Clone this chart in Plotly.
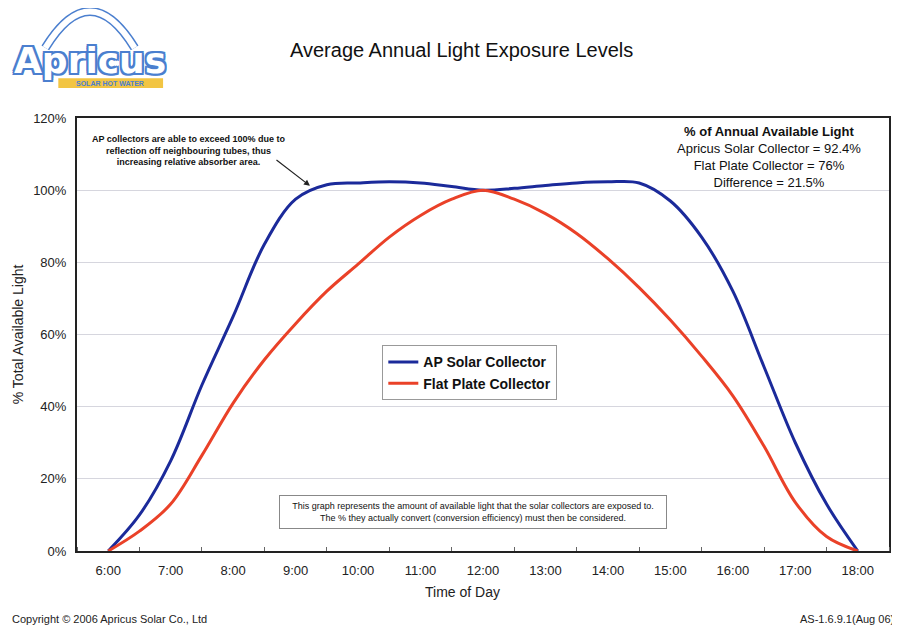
import plotly.graph_objects as go

hours = [6, 6.5, 7, 7.5, 8, 8.5, 9, 9.5, 10, 10.5, 11, 11.5, 12,
         12.5, 13, 13.5, 14, 14.5, 15, 15.5, 16, 16.5, 17, 17.5, 18]
ap_solar = [0, 10, 25, 46, 65, 85, 97.5, 101.5, 102, 102.3, 102, 101, 100,
            100.5, 101.3, 102, 102.3, 102, 97, 87, 72, 51, 30, 13, 0]
flat_plate = [0, 5.5, 13, 26.5, 41, 53, 63, 72, 79.5, 87, 93, 97.5, 100,
              97.5, 93.5, 88, 81, 73, 64, 54, 43, 29, 13.5, 4, 0]
tick_hours = list(range(6, 19))
tick_labels = [f"{h}:00" for h in tick_hours]
y_ticks = [0, 20, 40, 60, 80, 100, 120]
y_labels = [f"{v}%" for v in y_ticks]

FONT = "Liberation Sans, Arial, sans-serif"
BLUE = "#1b2a9a"
RED = "#ea4128"

fig = go.Figure()
fig.add_trace(go.Scatter(x=hours, y=ap_solar, mode="lines", name="AP Solar Collector",
                         line=dict(color=BLUE, width=3, shape="spline", smoothing=1.0)))
fig.add_trace(go.Scatter(x=hours, y=flat_plate, mode="lines", name="Flat Plate Collector",
                         line=dict(color=RED, width=3, shape="spline", smoothing=1.0)))

# page body adds an 8px margin, so the figure is sized/margined to compensate
fig.update_layout(
    width=892, height=617,
    margin=dict(l=69, r=11, t=110, b=74, autoexpand=False),
    paper_bgcolor="white", plot_bgcolor="white",
    font=dict(family=FONT, size=13, color="#222"),
    showlegend=True,
    legend=dict(x=0.376, y=0.475, xanchor="left", yanchor="top",
                bordercolor="#999", borderwidth=1, bgcolor="white",
                font=dict(size=14, color="#111", family=FONT, weight="bold"),
                itemwidth=30, tracegroupgap=2),
)
fig.update_xaxes(range=[5.5, 18.5], tickvals=tick_hours, ticktext=tick_labels,
                 ticks="", showgrid=False, zeroline=False, automargin=False,
                 showline=True, mirror=True, linecolor="#222", linewidth=2,
                 tickfont=dict(size=13, color="#222"), ticklabelstandoff=6,
                 minor=dict(ticks="inside", tick0=5.5, dtick=1, ticklen=4,
                            tickcolor="#666", showgrid=False))
fig.update_yaxes(range=[0, 120], tickvals=y_ticks, ticktext=y_labels,
                 showgrid=True, gridcolor="#d6d6de", gridwidth=1, zeroline=False, automargin=False,
                 showline=True, mirror=True, linecolor="#222", linewidth=2,
                 tickfont=dict(size=13, color="#222"), ticks="", ticklabelstandoff=6)

# Title and axis titles
fig.add_annotation(xref="paper", yref="paper", x=0.473, y=1.157, xanchor="center", yanchor="middle",
                   text="Average Annual Light Exposure Levels", showarrow=False,
                   font=dict(size=20, color="#111", family=FONT))
fig.add_annotation(xref="paper", yref="paper", x=0.475, y=-0.095, xanchor="center", yanchor="middle",
                   text="Time of Day", showarrow=False, font=dict(size=14, color="#222", family=FONT))
fig.add_annotation(xref="paper", yref="paper", x=-0.073, y=0.5, xanchor="center", yanchor="middle",
                   text="% Total Available Light", textangle=-90, showarrow=False,
                   font=dict(size=14, color="#222", family=FONT))

# Annotations
fig.add_annotation(xref="paper", yref="paper", x=0.137, y=0.926, xanchor="center", yanchor="middle",
                   text="AP collectors are able to exceed 100% due to<br>reflection off neighbouring tubes, thus<br>increasing relative absorber area.",
                   showarrow=False, font=dict(size=9, color="#111", family=FONT, weight="bold"), align="center")
fig.add_annotation(x=9.23, y=101.2, xref="x", yref="y", text="", showarrow=True,
                   arrowhead=2, arrowsize=1, arrowwidth=1.2, arrowcolor="#222", ax=-35, ay=-27)
fig.add_annotation(xref="paper", yref="paper", x=0.852, y=0.91, xanchor="center", yanchor="middle",
                   text="<b>% of Annual Available Light</b><br>Apricus Solar Collector = 92.4%<br>Flat Plate Collector = 76%<br>Difference = 21.5%",
                   showarrow=False, font=dict(size=13, color="#111", family=FONT), align="center")
fig.add_annotation(xref="paper", yref="paper", x=0.488, y=0.09, xanchor="center", yanchor="middle",
                   text="This graph represents the amount of available light that the solar collectors are exposed to.<br>The % they actually convert (conversion efficiency) must then be considered.",
                   showarrow=False, font=dict(size=9, color="#111", family=FONT), align="center",
                   bordercolor="#888", borderwidth=1, borderpad=5, bgcolor="white", width=376)

fig.add_annotation(xref="paper", yref="paper", x=-0.082, y=-0.157, xanchor="left", yanchor="middle",
                   text="Copyright © 2006 Apricus Solar Co., Ltd", showarrow=False,
                   font=dict(size=11, color="#222", family=FONT))
fig.add_annotation(xref="paper", yref="paper", x=1.009, y=-0.157, xanchor="right", yanchor="middle",
                   text="AS-1.6.9.1(Aug 06)", showarrow=False,
                   font=dict(size=11, color="#222", family=FONT))

# Logo
LOGO = "#4b7fcf"
arc = "M -0.039 1.162 Q 0.016 1.33 0.071 1.162"
fig.add_shape(type="path", xref="paper", yref="paper", path=arc, line=dict(color=LOGO, width=9))
fig.add_shape(type="path", xref="paper", yref="paper", path=arc, line=dict(color="white", width=6))
fig.add_shape(type="rect", xref="paper", yref="paper", x0=-0.023, x1=0.106, y0=1.069, y1=1.092,
              fillcolor="#f2c543", line=dict(width=0), layer="above")
fig.add_annotation(xref="paper", yref="paper", x=0.041, y=1.0805, xanchor="center", yanchor="middle",
                   text="SOLAR HOT WATER", showarrow=False,
                   font=dict(size=7, color=LOGO, family=FONT, weight="bold"))
fig.add_annotation(xref="paper", yref="paper", x=0.016, y=1.132, xanchor="center", yanchor="middle",
                   text="Apricus", showarrow=False,
                   font=dict(size=36, color="white", family="DejaVu Sans, sans-serif", weight="bold",
                             shadow="2px 0 0 #4b7fcf, -2px 0 0 #4b7fcf, 0 2px 0 #4b7fcf, 0 -2px 0 #4b7fcf, 2px 2px 0 #4b7fcf, -2px -2px 0 #4b7fcf, 2px -2px 0 #4b7fcf, -2px 2px 0 #4b7fcf"))

fig.write_html("out.html")
